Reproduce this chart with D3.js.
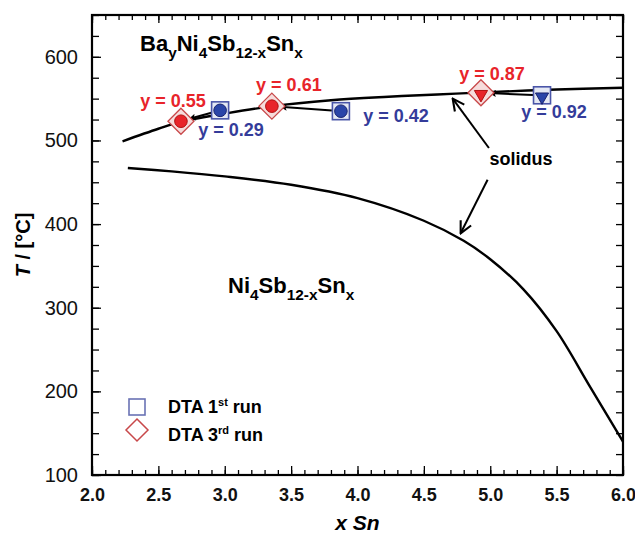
<!DOCTYPE html>
<html><head><meta charset="utf-8">
<script src="https://cdn.jsdelivr.net/npm/d3@7"></script>
<style>
body{margin:0;background:#fff}
svg{display:block}
text{font-family:"Liberation Sans",Arial,Helvetica,sans-serif}
</style>
</head><body>
<svg id="c" width="635" height="540"></svg>
<script>
// ---- data ----
const xTickValues = [2.0, 2.5, 3.0, 3.5, 4.0, 4.5, 5.0, 5.5, 6.0];
const xTickLabels = ["2.0","2.5","3.0","3.5","4.0","4.5","5.0","5.5","6.0"];
const yTickValues = [100, 200, 300, 400, 500, 600];
const yTickLabels = ["100","200","300","400","500","600"];

// solidus of Ba-filled skutterudite (upper curve)
const upperX = [2.23, 2.5, 2.66, 3.0, 3.36, 3.8, 4.2, 4.6, 4.95, 5.5, 6.0];
const upperT = [499, 514, 522, 532, 541, 548, 552, 555, 557.5, 561, 563];
// solidus of Ni4Sb12-xSnx (lower curve)
const lowerX = [2.27, 2.6, 3.0, 3.5, 4.0, 4.5, 4.8, 5.0, 5.25, 5.5, 5.75, 6.0];
const lowerT = [467, 463, 457, 447, 431, 404, 380, 358, 322, 272, 206, 140];

// DTA 1st run (blue squares)
const run1X = [2.965, 3.875, 5.39];
const run1T = [536, 535, 554];
const run1Y = ["0.29", "0.42", "0.92"];
const run1Inner = ["circle", "circle", "triangle"];
// DTA 3rd run (red diamonds)
const run3X = [2.67, 3.355, 4.93];
const run3T = [523, 541, 557];
const run3Y = ["0.55", "0.61", "0.87"];
const run3Inner = ["circle", "circle", "triangle"];

// ---- layout ----
const W = 635, H = 540;
const M = {left: 92, right: 12, top: 15, bottom: 65};
const svg = d3.select("#c");
const x = d3.scaleLinear().domain([2.0, 6.0]).range([M.left, W - M.right]);
const y = d3.scaleLinear().domain([100, 650]).range([H - M.bottom, M.top]);
const x0 = x.range()[0], x1 = x.range()[1], y0 = y.range()[0], y1 = y.range()[1];

const RED = "#e8242a", BLUE = "#343c9a", BLUEFILL = "#2b45a8";

// axes with inward ticks
const g = svg.append("g");
const xMinor = d3.range(2.0, 6.0001, 0.1).map(v => +v.toFixed(1));
const yMinor = d3.range(100, 651, 25);

function styleAxis(sel) {
  sel.select(".domain").remove();
  sel.selectAll(".tick line").attr("stroke", "#000").attr("stroke-width", 1.3);
}
g.append("g").attr("transform", `translate(0,${y0})`)
  .call(d3.axisBottom(x).tickValues(xMinor).tickSize(-5).tickFormat(""))
  .call(styleAxis);
g.append("g").attr("transform", `translate(0,${y0})`)
  .call(d3.axisBottom(x).tickValues(xTickValues).tickSize(-9).tickPadding(13)
    .tickFormat((d, i) => xTickLabels[i]))
  .call(styleAxis)
  .selectAll("text").attr("font-size", 18).attr("font-weight", "bold").attr("fill", "#111");
g.append("g").attr("transform", `translate(0,${y1})`)
  .call(d3.axisTop(x).tickValues(xMinor).tickSize(-5).tickFormat(""))
  .call(styleAxis);
g.append("g").attr("transform", `translate(0,${y1})`)
  .call(d3.axisTop(x).tickValues(xTickValues).tickSize(-8).tickFormat(""))
  .call(styleAxis);
g.append("g").attr("transform", `translate(${x0},0)`)
  .call(d3.axisLeft(y).tickValues(yMinor).tickSize(-7).tickFormat(""))
  .call(styleAxis);
g.append("g").attr("transform", `translate(${x0},0)`)
  .call(d3.axisLeft(y).tickValues(yTickValues).tickSize(-9).tickPadding(14)
    .tickFormat((d, i) => yTickLabels[i]))
  .call(styleAxis)
  .selectAll("text").attr("font-size", 20).attr("fill", "#111");
g.append("g").attr("transform", `translate(${x1},0)`)
  .call(d3.axisRight(y).tickValues(yMinor).tickSize(-7).tickFormat(""))
  .call(styleAxis);

// frame
svg.append("rect").attr("x", x0).attr("y", y1).attr("width", x1 - x0).attr("height", y0 - y1)
  .attr("fill", "none").attr("stroke", "#000").attr("stroke-width", 2.2);

// axis titles
svg.append("text").attr("x", (x0 + x1) / 2).attr("y", 530).attr("text-anchor", "middle")
  .attr("font-size", 21).attr("font-weight", "bold").attr("font-style", "italic").text("x Sn");
const yt = svg.append("text").attr("transform", `translate(30,${(y0 + y1) / 2}) rotate(-90)`)
  .attr("text-anchor", "middle").attr("font-size", 20).attr("font-weight", "bold");
yt.append("tspan").attr("font-style", "italic").text("T");
yt.append("tspan").text(" / [°C]");

// curves
const line = d3.line().x(d => x(d[0])).y(d => y(d[1])).curve(d3.curveCatmullRom.alpha(0.5));
svg.append("path").datum(upperX.map((v, i) => [v, upperT[i]])).attr("d", line)
  .attr("fill", "none").attr("stroke", "#000").attr("stroke-width", 2.4);
svg.append("path").datum(lowerX.map((v, i) => [v, lowerT[i]])).attr("d", line)
  .attr("fill", "none").attr("stroke", "#000").attr("stroke-width", 2.4);

// arrow markers
const defs = svg.append("defs");
defs.append("marker").attr("id", "ah").attr("viewBox", "0 0 10 10").attr("refX", 10).attr("refY", 5)
  .attr("markerWidth", 10).attr("markerHeight", 7).attr("markerUnits", "userSpaceOnUse").attr("orient", "auto")
  .append("path").attr("d", "M0,0 L10,5 L0,10 L2,5 Z").attr("fill", "#000");
defs.append("marker").attr("id", "av").attr("viewBox", "0 0 12 12").attr("refX", 11).attr("refY", 6)
  .attr("markerWidth", 14).attr("markerHeight", 14).attr("markerUnits", "userSpaceOnUse").attr("orient", "auto")
  .append("path").attr("d", "M1,1 L11,6 L1,11").attr("fill", "none").attr("stroke", "#000").attr("stroke-width", 1.8);

// arrows from 1st run to 3rd run
run1X.forEach((v, i) => {
  const sx = x(v), sy = y(run1T[i]), ex = x(run3X[i]), ey = y(run3T[i]);
  const dx = ex - sx, dy = ey - sy, L = Math.hypot(dx, dy);
  const ux = dx / L, uy = dy / L;
  svg.append("line")
    .attr("x1", sx + ux * 9).attr("y1", sy + uy * 9)
    .attr("x2", ex - ux * 8).attr("y2", ey - uy * 8)
    .attr("stroke", "#000").attr("stroke-width", 2).attr("marker-end", "url(#ah)");
});

// symbols
const sq = 17, dia = 13;
function inner(sel, type, cx, cy, col, stroke) {
  if (type === "circle") {
    sel.append("circle").attr("cx", cx).attr("cy", cy).attr("r", 6.3)
      .attr("fill", col).attr("stroke", stroke).attr("stroke-width", 1);
  } else {
    sel.append("path").attr("d", d3.symbol(d3.symbolTriangle, 75)())
      .attr("transform", `translate(${cx},${cy + 1.5}) rotate(180)`)
      .attr("fill", col).attr("stroke", stroke).attr("stroke-width", 1);
  }
}
const pts = svg.append("g");
run1X.forEach((v, i) => {
  const cx = x(v), cy = y(run1T[i]);
  pts.append("rect").attr("x", cx - sq / 2).attr("y", cy - sq / 2).attr("width", sq).attr("height", sq)
    .attr("fill", "#e4e8f4").attr("stroke", "#4a55a8").attr("stroke-width", 1.6);
  inner(pts, run1Inner[i], cx, cy, BLUEFILL, "#1a2470");
});
run3X.forEach((v, i) => {
  const cx = x(v), cy = y(run3T[i]);
  pts.append("path").attr("d", `M${cx},${cy - dia}L${cx + dia},${cy}L${cx},${cy + dia}L${cx - dia},${cy}Z`)
    .attr("fill", "#f6dcdc").attr("stroke", "#c8484a").attr("stroke-width", 1.3);
  inner(pts, run3Inner[i], cx, cy, RED, "#b01010");
});

// y = ... labels (offsets from the point, pixels)
const run1Off = [[11, 26], [55, 11], [12, 23]];
const run3Off = [[-8, -14], [17, -15], [11, -13]];
run1X.forEach((v, i) => {
  svg.append("text").attr("x", x(v) + run1Off[i][0]).attr("y", y(run1T[i]) + run1Off[i][1])
    .attr("text-anchor", "middle").attr("font-size", 18).attr("font-weight", "bold").attr("fill", BLUE)
    .text("y = " + run1Y[i]);
});
run3X.forEach((v, i) => {
  svg.append("text").attr("x", x(v) + run3Off[i][0]).attr("y", y(run3T[i]) + run3Off[i][1])
    .attr("text-anchor", "middle").attr("font-size", 18).attr("font-weight", "bold").attr("fill", RED)
    .text("y = " + run3Y[i]);
});

// solidus annotation
svg.append("text").attr("x", 521).attr("y", 165).attr("text-anchor", "middle")
  .attr("font-size", 18).attr("font-weight", "bold").text("solidus");
const solArrows = [[4.99, 491, 4.717, 550], [4.98, 453, 4.777, 389]];
solArrows.forEach(a => {
  svg.append("line").attr("x1", x(a[0])).attr("y1", y(a[1])).attr("x2", x(a[2])).attr("y2", y(a[3]))
    .attr("stroke", "#000").attr("stroke-width", 2).attr("marker-end", "url(#av)");
});

// formula labels
function formula(xp, yp, parts, size) {
  const t = svg.append("text").attr("x", xp).attr("y", yp).attr("font-size", size).attr("font-weight", "bold");
  let sub = false;
  parts.forEach(p => {
    const isSub = p[1];
    const ts = t.append("tspan").text(p[0]);
    if (isSub && !sub) ts.attr("dy", size * 0.3).attr("font-size", size * 0.7);
    else if (isSub) ts.attr("font-size", size * 0.7);
    else if (!isSub && sub) ts.attr("dy", -size * 0.3);
    sub = isSub;
  });
}
formula(140, 51, [["Ba", 0], ["y", 1], ["Ni", 0], ["4", 1], ["Sb", 0], ["12-x", 1], ["Sn", 0], ["x", 1]], 22);
formula(228, 293, [["Ni", 0], ["4", 1], ["Sb", 0], ["12-x", 1], ["Sn", 0], ["x", 1]], 22);

// legend
const lg = svg.append("g");
lg.append("rect").attr("x", 137 - 8).attr("y", 407 - 8).attr("width", 16).attr("height", 16)
  .attr("fill", "none").attr("stroke", "#6a72b4").attr("stroke-width", 1.6);
lg.append("path").attr("d", "M137,419L148,430L137,441L126,430Z")
  .attr("fill", "none").attr("stroke", "#c8484a").attr("stroke-width", 1.5);
function legText(yp, num, sup) {
  const t = lg.append("text").attr("x", 168).attr("y", yp).attr("font-size", 18).attr("font-weight", "bold");
  t.append("tspan").text("DTA " + num);
  t.append("tspan").attr("dy", -7).attr("font-size", 11).text(sup);
  t.append("tspan").attr("dy", 7).text(" run");
}
legText(413, "1", "st");
legText(441, "3", "rd");
</script>
</body></html>
